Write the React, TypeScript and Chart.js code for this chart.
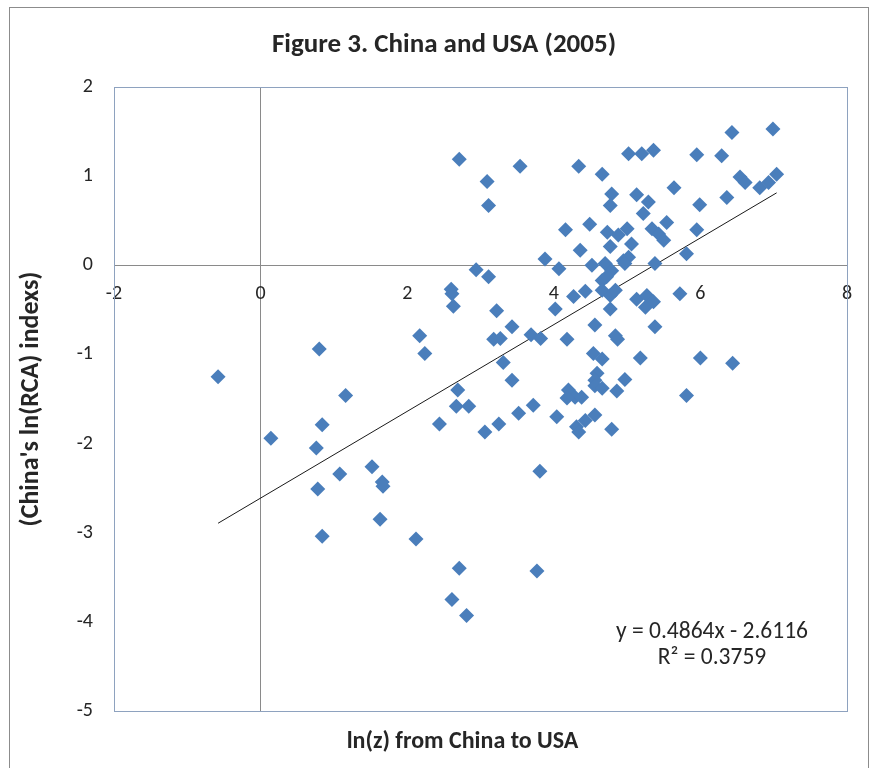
import React, { useEffect, useRef } from 'react';
import { Chart, registerables } from 'chart.js';

Chart.register(...registerables);

// ---- data ----
const xValues = [
  -0.58, 0.14, 0.80, 0.84, 0.76, 0.78, 0.84, 1.08, 1.16, 1.52,
  1.66, 1.67, 1.63, 2.17, 2.24, 2.12, 2.44, 2.60, 2.61, 2.63,
  2.71, 2.69, 2.67, 2.84, 2.71, 2.61, 2.81, 2.94, 3.09, 3.11,
  3.11, 3.06, 3.25, 3.22, 3.18, 3.27, 3.31, 3.43, 3.43, 3.54,
  3.52, 3.72, 3.69, 3.82, 3.81, 3.77, 3.88, 4.07, 4.02, 4.04,
  4.16, 4.18, 4.27, 4.43, 4.34, 4.36, 4.49, 4.20, 4.29, 4.38,
  4.18, 4.31, 4.43, 4.56, 4.34, 4.52, 4.56, 4.54, 4.66, 4.59,
  4.56, 4.97, 4.56, 4.66, 4.86, 4.79, 4.66, 4.79, 4.77, 4.73,
  4.88, 5.00, 4.77, 5.06, 4.70, 4.79, 4.66, 4.72, 4.95, 5.02,
  4.97, 4.66, 4.77, 4.84, 4.77, 4.84, 4.87, 5.13, 5.27, 5.36,
  5.25, 5.38, 5.18, 5.38, 5.13, 5.29, 5.22, 5.34, 5.43, 5.50,
  5.54, 5.02, 5.20, 5.36, 5.64, 5.72, 5.81, 5.81, 5.95, 5.99,
  5.95, 6.00, 6.29, 6.36, 6.43, 6.44, 6.54, 6.61, 6.81, 6.93,
  7.04, 6.99,
];
const yValues = [
  -1.25, -1.94, -0.94, -1.79, -2.05, -2.51, -3.04, -2.34, -1.46, -2.26,
  -2.43, -2.48, -2.85, -0.79, -0.99, -3.07, -1.78, -0.27, -0.32, -0.46,
  1.19, -1.40, -1.58, -1.58, -3.40, -3.75, -3.93, -0.05, 0.94, 0.67,
  -0.13, -1.87, -1.78, -0.51, -0.83, -0.82, -1.09, -0.69, -1.29, 1.11,
  -1.66, -1.57, -0.78, -0.82, -2.31, -3.43, 0.07, -0.04, -0.49, -1.70,
  0.40, -0.83, -0.35, -0.29, 1.11, 0.17, 0.46, -1.40, -1.48, -1.48,
  -1.49, -1.81, -1.74, -1.68, -1.87, 0.00, -0.67, -0.99, -1.05, -1.21,
  -1.29, -1.28, -1.35, -1.38, -1.41, -1.84, 1.02, 0.80, 0.67, 0.37,
  0.34, 0.41, 0.21, 0.24, 0.02, -0.06, -0.17, -0.13, 0.05, 0.09,
  0.02, -0.28, -0.34, -0.28, -0.49, -0.79, -0.83, -0.38, -0.34, -0.41,
  -0.47, -0.69, -1.04, 0.02, 0.79, 0.71, 0.58, 0.41, 0.35, 0.28,
  0.48, 1.25, 1.25, 1.29, 0.87, -0.32, 0.13, -1.46, 1.24, 0.68,
  0.40, -1.04, 1.23, 0.76, 1.49, -1.10, 0.99, 0.93, 0.87, 0.93,
  1.02, 1.53,
];
const trendSlope = 0.4864;
const trendIntercept = -2.6116;
const rSquared = 0.3759;
const xRange = [-2, 8];
const yRange = [-5, 2];
const xStep = 2;
const yStep = 1;

const chartTitle = 'Figure 3. China and USA (2005)';
const xAxisTitle = 'ln(z) from China to USA';
const yAxisTitle = "(China's ln(RCA) indexs)";
const equationLine = `y = ${trendSlope}x - ${Math.abs(trendIntercept)}`;
const rSquaredLine = `R\u00B2 = ${rSquared}`;

const FONT = 'Carlito, Calibri, Lato, sans-serif';
const TEXT = '#262626';

const decorPlugin = {
  id: 'decor',
  beforeDraw(chart: any) {
    const { ctx } = chart;
    ctx.save();
    ctx.fillStyle = '#ffffff';
    ctx.fillRect(0, 0, chart.width, chart.height);
    ctx.strokeStyle = '#8c8c8c';
    ctx.lineWidth = 1;
    ctx.strokeRect(9.5, 7.5, 859, 800);
    ctx.restore();
  },
  beforeDatasetsDraw(chart: any) {
    const { ctx, chartArea: a } = chart;
    ctx.save();
    ctx.strokeStyle = '#8ea2bf';
    ctx.lineWidth = 1;
    ctx.strokeRect(Math.round(a.left) + 0.5, Math.round(a.top) + 0.5,
      Math.round(a.right - a.left), Math.round(a.bottom - a.top));
    ctx.restore();
  },
  afterDraw(chart: any) {
    const { ctx, chartArea: a } = chart;
    ctx.save();
    ctx.fillStyle = TEXT;
    ctx.textAlign = 'center';
    ctx.textBaseline = 'middle';
    ctx.font = `23.5px ${FONT}`;
    const ex = a.right - 135;
    ctx.fillText(equationLine, ex, a.bottom - 79);
    ctx.fillText(rSquaredLine, ex, a.bottom - 53);
    ctx.font = `bold 24px ${FONT}`;
    ctx.fillText(xAxisTitle, (a.left + a.right) / 2 - 18, a.bottom + 31);
    ctx.restore();
  },
};

export default function App() {
  const ref = useRef<HTMLCanvasElement | null>(null);

  useEffect(() => {
    if (!ref.current) return;
    const points = xValues.map((x, i) => ({ x, y: yValues[i] }));
    const xMin = Math.min(...xValues);
    const xMax = Math.max(...xValues);
    const trend = [
      { x: xMin, y: trendSlope * xMin + trendIntercept },
      { x: xMax, y: trendSlope * xMax + trendIntercept },
    ];
    const chart = new Chart(ref.current, {
      type: 'scatter',
      data: {
        datasets: [
          {
            type: 'scatter',
            data: points,
            pointStyle: 'rectRot',
            pointRadius: 7.5,
            pointHoverRadius: 7.5,
            backgroundColor: '#4a7ebb',
            borderColor: '#4a7ebb',
            borderWidth: 0,
          },
          {
            type: 'line',
            data: trend,
            borderColor: '#1a1a1a',
            borderWidth: 1,
            pointRadius: 0,
            fill: false,
          },
        ],
      } as any,
      options: {
        responsive: false,
        animation: false,
        layout: { padding: { left: 18, right: 0, top: 0, bottom: 57 } },
        plugins: {
          legend: { display: false },
          tooltip: { enabled: false },
          title: {
            display: true,
            text: chartTitle,
            color: TEXT,
            font: { family: FONT, size: 27, weight: 'bold', lineHeight: 1.2 },
            padding: { top: 29, bottom: 25.6 },
          },
        },
        scales: {
          x: {
            type: 'linear',
            min: xRange[0],
            max: xRange[1],
            position: { y: 0 } as any,
            ticks: {
              stepSize: xStep,
              color: TEXT,
              padding: 17,
              font: { family: FONT, size: 20 },
            },
            grid: {
              drawTicks: false,
              color: (c: any) => (c.tick && c.tick.value === 0 ? '#8a8a8a' : 'rgba(0,0,0,0)'),
            },
            border: { display: true, color: '#8a8a8a' },
          },
          y: {
            type: 'linear',
            min: yRange[0],
            max: yRange[1],
            ticks: {
              stepSize: yStep,
              color: TEXT,
              padding: 21,
              font: { family: FONT, size: 20 },
            },
            grid: { display: false, drawTicks: false },
            border: { display: false },
            title: {
              display: true,
              text: yAxisTitle,
              color: TEXT,
              font: { family: FONT, size: 26, weight: 'bold', lineHeight: 1 },
              padding: { top: 0, bottom: 0 },
            },
            afterFit: (s: any) => {
              s.width = 96;
            },
          },
          yRight: {
            type: 'linear',
            position: 'right',
            min: yRange[0],
            max: yRange[1],
            ticks: { display: false },
            grid: { display: false, drawTicks: false },
            border: { display: false },
            afterFit: (s: any) => {
              s.width = 23;
            },
          },
        },
      } as any,
      plugins: [decorPlugin],
    });
    return () => chart.destroy();
  }, []);

  return (
    <div style={{ position: 'absolute', left: 0, top: 0, width: 870, height: 768 }}>
      <canvas ref={ref} width={870} height={768} style={{ display: 'block' }} />
    </div>
  );
}
